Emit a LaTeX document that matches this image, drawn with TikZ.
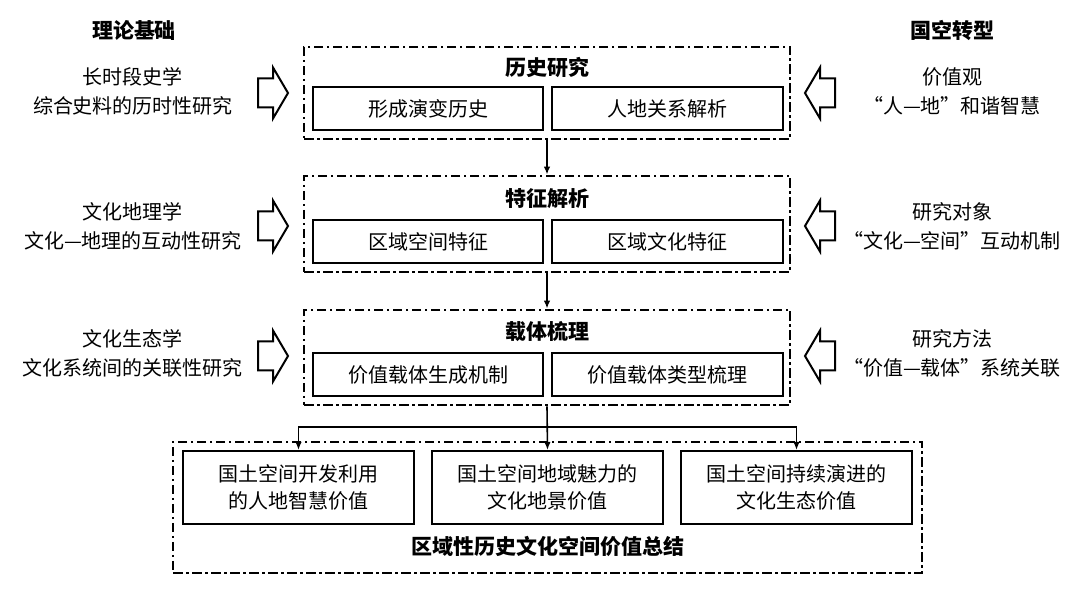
\documentclass[tikz,border=0pt]{standalone}
\usepackage{fontspec}
\setmainfont{Noto Sans CJK SC}
\usetikzlibrary{arrows.meta}
\tikzset{
  outerbox/.style={draw, line width=2.8pt, dash pattern=on 9.5pt off 3.5pt on 2.5pt off 3.5pt, inner sep=0pt},
  innerbox/.style={draw, line width=2pt, inner sep=0pt, font=\fontsize{20}{27}\selectfont, align=center},
  titletext/.style={font=\fontsize{21}{25}\bfseries\selectfont, inner sep=0pt},
  sidetext/.style={font=\fontsize{20}{29}\selectfont, align=center, inner sep=0pt},
  conn/.style={line width=1.6pt, -{Latex[length=8pt,width=6.5pt]}},
  barrow/.style={line width=2pt, line join=miter},
  rblock/.pic={\draw[barrow] (-30,-14.5) -- (-15,-14.5) -- (-15,-25.5) -- (0,0) -- (-15,25.5) -- (-15,14.5) -- (-30,14.5) -- cycle;},
}
\begin{document}
\begin{tikzpicture}[x=1pt,y=-1pt]
\useasboundingbox[fill=white] (0,0) rectangle (1080,593);

% headers
\node[titletext] (hl) at (134,30) {理论基础};
\node[titletext] (hr) at (952,30) {国空转型};

% box 1
\node[outerbox, minimum width=486, minimum height=92] (b1) at (547,93) {};
\node[titletext] (t1) at (547,67) {历史研究};
\node[innerbox, minimum width=230, minimum height=43] (b1l) at (428,108.5) {形成演变历史};
\node[innerbox, minimum width=231, minimum height=43] (b1r) at (667.5,108.5) {人地关系解析};

% box 2
\node[outerbox, minimum width=486, minimum height=96] (b2) at (547,224) {};
\node[titletext] (t2) at (547,199) {特征解析};
\node[innerbox, minimum width=230, minimum height=43] (b2l) at (428,241.5) {区域空间特征};
\node[innerbox, minimum width=231, minimum height=43] (b2r) at (667.5,241.5) {区域文化特征};

% box 3
\node[outerbox, minimum width=486, minimum height=95] (b3) at (547,357.5) {};
\node[titletext] (t3) at (547,332) {载体梳理};
\node[innerbox, minimum width=230, minimum height=43] (b3l) at (428,374.5) {价值载体生成机制};
\node[innerbox, minimum width=231, minimum height=43] (b3r) at (667.5,374.5) {价值载体类型梳理};

% bottom box
\node[outerbox, minimum width=749, minimum height=131] (b4) at (547.5,507.5) {};
\node[innerbox, minimum width=231, minimum height=73] (v1) at (298.5,487.5) {国土空间开发利用\\的人地智慧价值};
\node[innerbox, minimum width=231, minimum height=73] (v2) at (547.5,487.5) {国土空间地域魅力的\\文化地景价值};
\node[innerbox, minimum width=231, minimum height=73] (v3) at (796.5,487.5) {国土空间持续演进的\\文化生态价值};
\node[titletext] (t4) at (547.5,546) {区域性历史文化空间价值总结};

% connectors
\draw[conn] (b1.south) -- (b2.north);
\draw[conn] (b2.south) -- (b3.north);
\draw[conn] (b3.south) -- (v2.north);
\coordinate (j) at (547.5,427);
\draw[conn] (j) -| (v1.north);
\draw[conn] (j) -| (v3.north);

% left texts
\node[sidetext] (l1) at (133,91.5) {长时段史学\\综合史料的历时性研究};
\node[sidetext] (l2) at (133,226.5) {文化地理学\\文化—地理的互动性研究};
\node[sidetext] (l3) at (133,353.5) {文化生态学\\文化系统间的关联性研究};

% right texts
\node[sidetext] (r1) at (952,91.5) {价值观\\“人—地”和谐智慧};
\node[sidetext] (r2) at (952,226.5) {研究对象\\“文化—空间”互动机制};
\node[sidetext] (r3) at (952,353.5) {研究方法\\“价值—载体”系统关联};

% block arrows
\pic (la1) at (288,93) {rblock};
\pic (la2) at (288,226) {rblock};
\pic (la3) at (288,356) {rblock};
\pic[xscale=-1] (ra1) at (805,93) {rblock};
\pic[xscale=-1] (ra2) at (805,226) {rblock};
\pic[xscale=-1] (ra3) at (805,356) {rblock};
\end{tikzpicture}
\end{document}
